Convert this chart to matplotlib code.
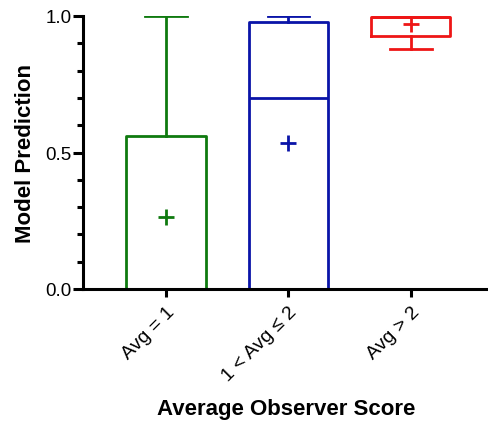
import matplotlib
matplotlib.use("Agg")
import matplotlib.pyplot as plt
from matplotlib.ticker import MultipleLocator

plt.rcParams['font.family'] = ['Liberation Sans', 'DejaVu Sans']

categories = ["Avg = 1", "1 < Avg ≤ 2", "Avg > 2"]
whislo = [0.0, 0.0, 0.88]
q1 = [0.0, 0.0, 0.928]
med = [0.0, 0.70, 0.996]
q3 = [0.56, 0.978, 0.996]
whishi = [1.0, 1.0, 1.0]
means = [0.264, 0.535, 0.97]
colors = ["#0f7a0f", "#0a14a8", "#ee1616"]

fig = plt.figure(figsize=(4.89, 4.31), dpi=100)
ax = fig.add_axes([83/489, 1-290/431, 1-83/489, (290-17)/431])

for i in range(len(categories)):
    st = dict(whislo=whislo[i], q1=q1[i], med=med[i], q3=q3[i], whishi=whishi[i], fliers=[])
    c = colors[i]
    ax.bxp([st], positions=[i+1], widths=0.65, showfliers=False,
           boxprops=dict(color=c, linewidth=2),
           whiskerprops=dict(color=c, linewidth=2),
           capprops=dict(color=c, linewidth=2),
           medianprops=dict(color=c, linewidth=2),
           capwidths=0.34, manage_ticks=False)
    ax.plot([i+1], [means[i]], marker='+', color=c, markersize=12, mew=2, linestyle='none', zorder=5)

ax.set_xlim(0.32, 3.64)
ax.set_ylim(0, 1.0)
ax.set_xticks([1, 2, 3])
ax.set_xticklabels(categories, rotation=45, ha='right', rotation_mode='anchor', fontsize=14)
ax.set_yticks([0, 0.5, 1.0])
ax.set_yticklabels(["0.0", "0.5", "1.0"], fontsize=13.5)
ax.yaxis.set_minor_locator(MultipleLocator(0.1))
ax.tick_params(axis='both', which='major', direction='out', length=7, width=2.2, colors='black')
ax.tick_params(axis='y', which='major', pad=1)
ax.tick_params(axis='y', which='minor', direction='out', length=4, width=2.2)
ax.tick_params(axis='x', which='major', length=6, pad=4)
for s in ['top', 'right']:
    ax.spines[s].set_visible(False)
for s in ['left', 'bottom']:
    ax.spines[s].set_linewidth(2.2)
ax.set_ylabel("Model Prediction", fontsize=16, fontweight='bold', labelpad=7)
ax.set_xlabel("Average Observer Score", fontsize=16, fontweight='bold', labelpad=10)

fig.savefig("out.png", dpi=100)
